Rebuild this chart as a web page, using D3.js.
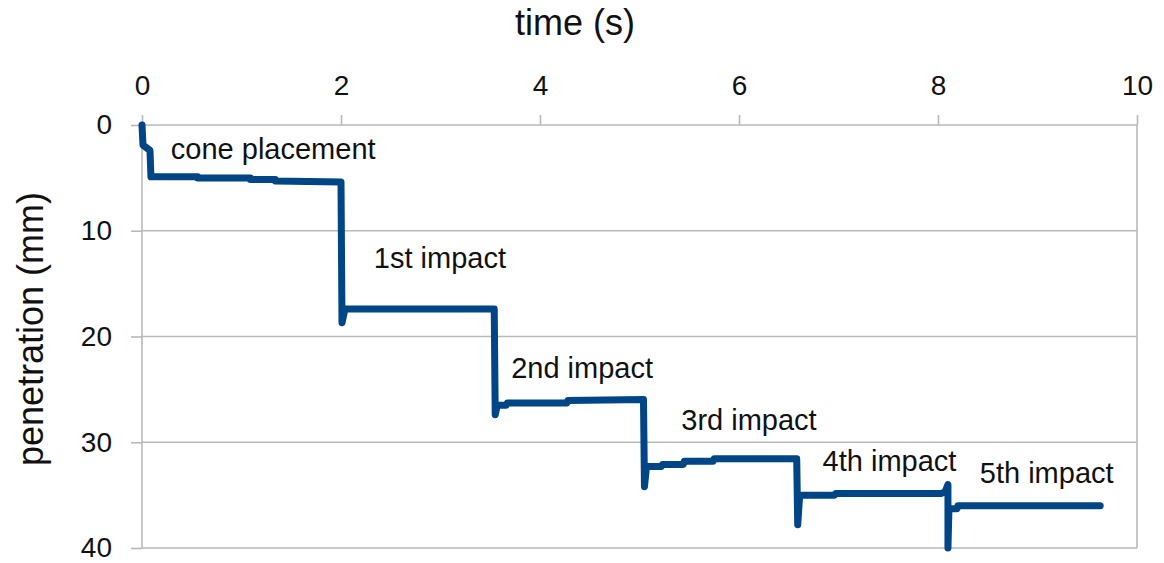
<!DOCTYPE html>
<html>
<head>
<meta charset="utf-8">
<script src="https://cdn.jsdelivr.net/npm/d3@7"></script>
<style>
  html, body { margin: 0; padding: 0; background: #fff; }
  svg { display: block; font-family: "Liberation Sans", Arial, sans-serif; }
</style>
</head>
<body>
<svg id="chart" width="1164" height="563"></svg>
<script>
// Cone penetration record: time (s) vs penetration (mm)
const time = [
  0.00, 0.01, 0.08, 0.09, 0.56, 0.56, 1.09, 1.09, 1.34, 1.34, 2.00,
  2.00, 2.01, 2.04, 3.54,
  3.54, 3.55, 3.57, 3.66, 3.67, 4.27, 4.28, 5.04,
  5.04, 5.05, 5.07, 5.22, 5.23, 5.44, 5.45, 5.74, 5.75, 6.58,
  6.58, 6.59, 6.61, 6.96, 6.97, 8.03, 8.07, 8.10,
  8.10, 8.11, 8.19, 8.20, 9.63
];
const penetration = [
  0.0, 1.9, 2.4, 4.9, 4.9, 5.0, 5.0, 5.15, 5.15, 5.3, 5.4,
  5.4, 18.7, 17.4, 17.4,
  17.4, 27.4, 26.5, 26.5, 26.3, 26.3, 26.05, 25.95,
  25.95, 34.2, 32.3, 32.3, 32.1, 32.1, 31.8, 31.8, 31.55, 31.55,
  31.55, 37.8, 35.0, 35.0, 34.85, 34.85, 34.7, 34.0,
  40.0, 36.3, 36.3, 36.0, 36.0
];

const xTicks = [0, 2, 4, 6, 8, 10];
const yTicks = [0, 10, 20, 30, 40];

// Event labels, anchored in data units (time, penetration)
const eventNames = ["cone placement", "1st impact", "2nd impact", "3rd impact", "4th impact", "5th impact"];
const eventTime = [0.29, 2.33, 3.71, 5.42, 6.84, 8.42];
const eventDepth = [3.2, 13.5, 23.9, 28.8, 32.7, 33.9];

const svg = d3.select("#chart");
const plotLeft = 142, plotRight = 1137, plotTop = 125, plotBottom = 548;

const x = d3.scaleLinear().domain([0, 10]).range([plotLeft, plotRight]);
const y = d3.scaleLinear().domain([0, 40]).range([plotTop, plotBottom]);

const gridColor = "#b9b9b9";
const textColor = "#111";

// horizontal gridlines
svg.append("g")
  .selectAll("line")
  .data(yTicks)
  .join("line")
  .attr("x1", plotLeft).attr("x2", plotRight)
  .attr("y1", d => y(d)).attr("y2", d => y(d))
  .attr("stroke", gridColor)
  .attr("stroke-width", 1.6);

// left axis line and right border
svg.append("line")
  .attr("x1", plotLeft).attr("x2", plotLeft).attr("y1", plotTop).attr("y2", plotBottom)
  .attr("stroke", gridColor).attr("stroke-width", 1.6);
svg.append("line")
  .attr("x1", plotRight).attr("x2", plotRight).attr("y1", plotTop).attr("y2", plotBottom)
  .attr("stroke", gridColor).attr("stroke-width", 1.6);

// top time axis
const xAxis = svg.append("g")
  .attr("transform", `translate(0,${plotTop})`)
  .call(d3.axisTop(x).tickValues(xTicks).tickFormat(d3.format("d")).tickSize(10).tickPadding(20));
// left penetration axis
const yAxis = svg.append("g")
  .attr("transform", `translate(${plotLeft},0)`)
  .call(d3.axisLeft(y).tickValues(yTicks).tickFormat(d3.format("d")).tickSize(11).tickPadding(19));

[xAxis, yAxis].forEach(g => {
  g.select(".domain").remove();
  g.selectAll(".tick line").attr("stroke", gridColor).attr("stroke-width", 1.6);
  g.selectAll(".tick text")
    .attr("fill", textColor)
    .style("font-family", "'Liberation Sans', Arial, sans-serif")
    .style("font-size", "28px");
});

// axis titles
svg.append("text")
  .attr("x", 575)
  .attr("y", 35)
  .attr("text-anchor", "middle")
  .attr("fill", textColor)
  .style("font-size", "36px")
  .text("time (s)");

svg.append("text")
  .attr("transform", `translate(43,329) rotate(-90)`)
  .attr("text-anchor", "middle")
  .attr("fill", textColor)
  .style("font-size", "36px")
  .text("penetration (mm)");

// penetration trace
const points = time.map((t, i) => [t, penetration[i]]);
const line = d3.line().x(d => x(d[0])).y(d => y(d[1]));

svg.append("path")
  .datum(points)
  .attr("d", line)
  .attr("fill", "none")
  .attr("stroke", "#004586")
  .attr("stroke-width", 7)
  .attr("stroke-linejoin", "round")
  .attr("stroke-linecap", "round");

// event labels
svg.append("g")
  .selectAll("text")
  .data(eventNames)
  .join("text")
  .attr("x", (d, i) => x(eventTime[i]))
  .attr("y", (d, i) => y(eventDepth[i]))
  .attr("fill", textColor)
  .style("font-size", "29px")
  .text(d => d);
</script>
</body>
</html>
